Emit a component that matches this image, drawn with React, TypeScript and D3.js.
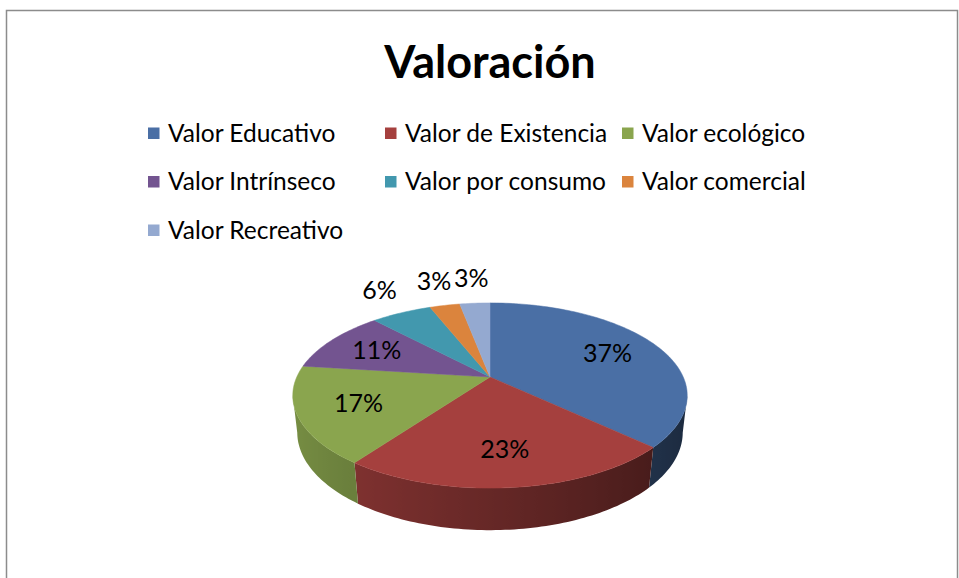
import { useEffect, useRef } from "react";
import * as d3 from "d3";

const title = "Valoración";
const categories = [
  "Valor Educativo",
  "Valor de Existencia",
  "Valor ecológico",
  "Valor Intrínseco",
  "Valor por consumo",
  "Valor comercial",
  "Valor Recreativo",
];
const values = [37, 23, 17, 11, 6, 3, 3];
const colors = ["#4a6fa5", "#a5403e", "#8aa54e", "#735490", "#4298ae", "#db843d", "#94a9d0"];

const W = 959;
const H = 578;
const font = "Lato, 'Open Sans', sans-serif";

// perspective of the 3D pie (radius = 1 unit)
const cx = 490;
const cy = 377;
const dist = 4.44;
const focal = 858;
const sinT = 0.46;
const cosT = 0.888;
const depth = 0.216;

function project(rho: number, theta: number, h: number): [number, number] {
  const X = rho * Math.sin(theta);
  const Z = -rho * Math.cos(theta);
  const v = Z * sinT - h * cosT;
  const w = dist - Z * cosT - h * sinT;
  return [cx + (focal * X) / w, cy + (focal * v) / w];
}

function shade(base: string, theta: number) {
  const f = 0.62 - 0.25 * Math.sin(theta);
  const c = d3.rgb(base);
  return d3.rgb(c.r * f, c.g * f, c.b * f).formatHex();
}

export default function App() {
  const ref = useRef<SVGSVGElement>(null);

  useEffect(() => {
    const svg = d3.select(ref.current);
    svg.selectAll("*").remove();
    const defs = svg.append("defs");

    svg.append("rect").attr("width", W).attr("height", H).attr("fill", "#fff");
    svg.append("rect")
      .attr("x", 6.5).attr("y", 10.5)
      .attr("width", 951).attr("height", 700)
      .attr("fill", "none").attr("stroke", "#8c8c8c").attr("stroke-width", 1.5);

    svg.append("text")
      .attr("x", 490).attr("y", 78)
      .attr("text-anchor", "middle")
      .attr("font-family", font).attr("font-weight", "bold").attr("font-size", 45)
      .text(title);

    // legend
    const colW = 237;
    const rowH = 48.5;
    const leg = svg.append("g").attr("transform", "translate(148,133)");
    const items = leg.selectAll("g").data(categories).join("g")
      .attr("transform", (_, i) => `translate(${(i % 3) * colW},${Math.floor(i / 3) * rowH})`);
    items.append("rect").attr("x", 0).attr("y", -5.5).attr("width", 11.5).attr("height", 11.5)
      .attr("fill", (_, i) => colors[i]);
    items.append("text").attr("x", 20).attr("y", 8.5)
      .attr("font-family", font).attr("font-size", 24.5).attr("fill", "#000")
      .text((d) => d);

    const pie = d3.pie<number>().sort(null).startAngle(0).endAngle(2 * Math.PI);
    const arcs = pie(values);
    const line = d3.line();

    // visible front side lies between the two silhouette angles
    const silA = Math.acos(-cosT / dist);
    const silB = 2 * Math.PI - silA;

    const sides = svg.append("g");
    arcs.forEach((a, i) => {
      const t0 = Math.max(a.startAngle, silA);
      const t1 = Math.min(a.endAngle, silB);
      if (t1 <= t0) return;
      const n = Math.max(4, Math.ceil((t1 - t0) / 0.02));
      const ts = d3.range(n + 1).map((j) => t0 + ((t1 - t0) * j) / n);
      const top = ts.map((t) => project(1, t, 0));
      const bot = ts.map((t) => project(1, t, -depth)).reverse();
      const xs = top.map((p) => p[0]);
      const xMin = d3.min(xs)!;
      const xMax = d3.max(xs)!;
      const grad = defs.append("linearGradient")
        .attr("id", `side${i}`)
        .attr("gradientUnits", "userSpaceOnUse")
        .attr("x1", xMin).attr("x2", xMax).attr("y1", 0).attr("y2", 0);
      const stops = ts
        .map((t, j) => ({ off: xMax > xMin ? (xs[j] - xMin) / (xMax - xMin) : 0, col: shade(colors[i], t) }))
        .sort((p, q) => p.off - q.off);
      grad.selectAll("stop").data(stops).join("stop")
        .attr("offset", (d) => d.off)
        .attr("stop-color", (d) => d.col);
      sides.append("path")
        .attr("d", line([...top, ...bot]) + "Z")
        .attr("fill", `url(#side${i})`);
    });

    // top faces
    svg.append("g").selectAll("path").data(arcs).join("path")
      .attr("d", (a) => {
        const pts: [number, number][] = [project(0, 0, 0)];
        const n = Math.max(4, Math.ceil((a.endAngle - a.startAngle) / 0.02));
        for (let j = 0; j <= n; j++) {
          pts.push(project(1, a.startAngle + ((a.endAngle - a.startAngle) * j) / n, 0));
        }
        return line(pts) + "Z";
      })
      .attr("fill", (_, i) => colors[i])
      .attr("stroke", (_, i) => colors[i])
      .attr("stroke-width", 0.5);

    // labels
    svg.append("g").selectAll("text").data(arcs).join("text")
      .each(function (a) {
        const mid = (a.startAngle + a.endAngle) / 2;
        const outside = a.data < 8;
        const [x, y] = project(outside ? 1.3 : 0.7, mid, 0);
        d3.select(this)
          .attr("x", x)
          .attr("y", outside ? y - 7 : y)
          .attr("dy", "0.35em");
      })
      .attr("text-anchor", "middle")
      .attr("font-family", font).attr("font-size", 25).attr("fill", "#000")
      .text((a) => `${a.data}%`);
  }, []);

  return (
    <svg ref={ref} width={W} height={H} style={{ position: "absolute", left: 0, top: 0 }} />
  );
}
